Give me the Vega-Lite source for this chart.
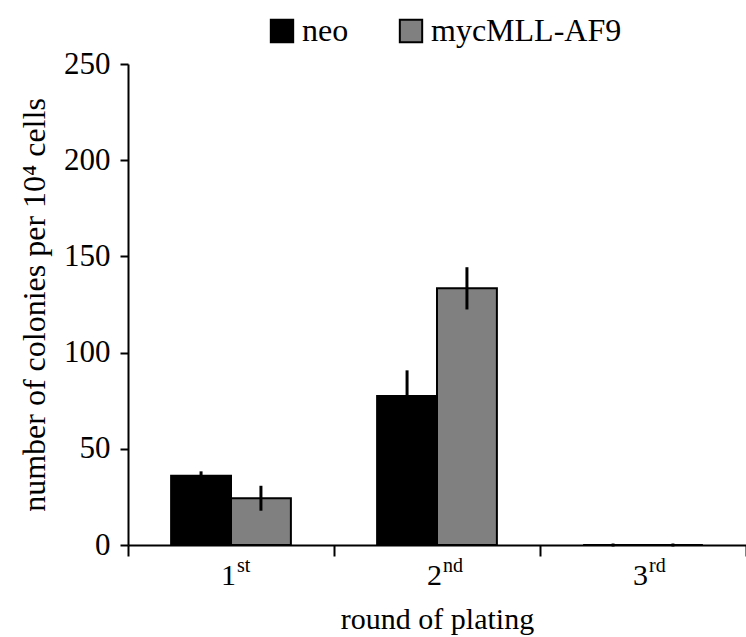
{
  "$schema": "https://vega.github.io/schema/vega-lite/v6.json",
  "width": 618,
  "height": 481,
  "autosize": {"type": "none"},
  "padding": {"left": 128, "top": 64, "right": 0, "bottom": 92},
  "config": {
    "font": "Liberation Serif",
    "view": {"stroke": null},
    "axis": {"labelFont": "Liberation Serif", "titleFont": "Liberation Serif"},
    "legend": {"labelFont": "Liberation Serif"},
    "text": {"font": "Liberation Serif"}
  },
  "datasets": {
    "bars": [
      {"round": "1st", "series": "neo", "value": 36, "lo": 34.5, "hi": 37.5},
      {"round": "1st", "series": "mycMLL-AF9", "value": 24.3, "lo": 18.6, "hi": 30},
      {"round": "2nd", "series": "neo", "value": 77.5, "lo": 65, "hi": 90},
      {"round": "2nd", "series": "mycMLL-AF9", "value": 133.4, "lo": 123.2, "hi": 143.6},
      {"round": "3rd", "series": "neo", "value": 0, "lo": 0, "hi": 0},
      {"round": "3rd", "series": "mycMLL-AF9", "value": 0, "lo": 0, "hi": 0}
    ],
    "labels": [
      {"round": "1st", "num": "1", "sup": "st"},
      {"round": "2nd", "num": "2", "sup": "nd"},
      {"round": "3rd", "num": "3", "sup": "rd"}
    ]
  },
  "layer": [
    {
      "data": {"name": "bars"},
      "mark": {"type": "bar", "stroke": "black", "strokeWidth": 2},
      "encoding": {
        "x": {
          "field": "round", "type": "nominal", "sort": ["1st", "2nd", "3rd"],
          "scale": {"paddingInner": 0, "paddingOuter": 0},
          "title": "round of plating",
          "axis": {
            "labels": false, "tickBand": "extent", "tickSize": 11, "tickWidth": 2,
            "tickColor": "black", "domainColor": "black", "domainWidth": 2,
            "titleFontSize": 30, "titleFontWeight": "normal", "titleColor": "black",
            "titlePadding": 47
          }
        },
        "xOffset": {
          "field": "series", "type": "nominal", "sort": ["neo", "mycMLL-AF9"],
          "scale": {"paddingInner": 0, "paddingOuter": 0.72}
        },
        "y": {
          "field": "value", "type": "quantitative",
          "scale": {"domain": [0, 250], "nice": false},
          "title": "number of colonies per 10⁴ cells",
          "axis": {
            "values": [0, 50, 100, 150, 200, 250], "grid": false,
            "tickSize": 8, "tickWidth": 2, "tickColor": "black",
            "domainColor": "black", "domainWidth": 2,
            "labelFontSize": 31, "labelColor": "black", "labelPadding": 10,
            "titleFontSize": 32, "titleFontWeight": "normal", "titleColor": "black",
            "titlePadding": 12
          }
        },
        "fill": {
          "field": "series", "type": "nominal", "sort": ["neo", "mycMLL-AF9"],
          "scale": {"range": ["#000000", "#808080"]},
          "legend": {
            "orient": "none", "legendX": 138, "legendY": -49, "direction": "horizontal",
            "title": null, "symbolType": "square", "symbolSize": 500,
            "symbolStrokeColor": "black", "symbolStrokeWidth": 2,
            "labelFontSize": 32, "labelColor": "black", "labelOffset": 4,
            "labelLimit": 400, "columnPadding": 46
          }
        }
      }
    },
    {
      "data": {"name": "bars"},
      "mark": {"type": "rule", "color": "black", "strokeWidth": 3, "strokeCap": "square"},
      "encoding": {
        "x": {"field": "round", "type": "nominal", "sort": ["1st", "2nd", "3rd"]},
        "xOffset": {"field": "series", "type": "nominal", "sort": ["neo", "mycMLL-AF9"]},
        "y": {"field": "lo", "type": "quantitative", "scale": {"domain": [0, 250], "nice": false}},
        "y2": {"field": "hi"}
      }
    },
    {
      "data": {"name": "labels"},
      "mark": {"type": "text", "align": "right", "baseline": "alphabetic", "dx": 5, "dy": 40, "fontSize": 30, "color": "black"},
      "encoding": {
        "x": {"field": "round", "type": "nominal", "sort": ["1st", "2nd", "3rd"]},
        "y": {"datum": 0, "type": "quantitative"},
        "text": {"field": "num"}
      }
    },
    {
      "data": {"name": "labels"},
      "mark": {"type": "text", "align": "left", "baseline": "alphabetic", "dx": 6, "dy": 27, "fontSize": 20, "color": "black"},
      "encoding": {
        "x": {"field": "round", "type": "nominal", "sort": ["1st", "2nd", "3rd"]},
        "y": {"datum": 0, "type": "quantitative"},
        "text": {"field": "sup"}
      }
    }
  ]
}
